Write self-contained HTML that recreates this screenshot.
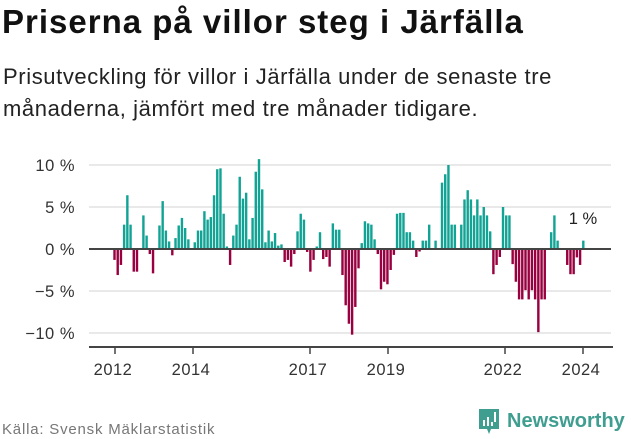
<!DOCTYPE html>
<html><head><meta charset="utf-8">
<style>
body{margin:0;width:631px;height:439px;background:#fff;font-family:"Liberation Sans","DejaVu Sans",sans-serif;overflow:hidden;position:relative}
h1{position:absolute;left:2px;top:3px;margin:0;font-size:33px;font-weight:bold;color:#111;letter-spacing:1px}
.sub{position:absolute;left:3px;top:61px;font-size:22px;line-height:32px;color:#222;width:580px;letter-spacing:0.6px}
.foot{position:absolute;left:2px;top:421px;font-size:15px;color:#777;letter-spacing:0.8px}
.logo{position:absolute;left:477px;top:407px;display:flex;align-items:center;color:#3f9e90;font-size:20px;font-weight:bold}
</style></head><body>
<h1>Priserna på villor steg i Järfälla</h1>
<div class="sub">Prisutveckling för villor i Järfälla under de senaste tre<br>månaderna, jämfört med tre månader tidigare.</div>
<svg id="chart" width="631" height="439" style="position:absolute;left:0;top:0"></svg>
<div class="foot">Källa: Svensk Mäklarstatistik</div>
<div class="logo"><svg width="24" height="28" viewBox="0 0 24 28"><path d="M2 2h20v20h-8l-2 5-2-5H2z" fill="#3f9e90"/><rect x="6" y="13" width="2" height="6" fill="#fff"/><rect x="10" y="10" width="2" height="9" fill="#fff"/><rect x="14" y="15" width="2" height="4" fill="#fff"/><rect x="17" y="5" width="2" height="10" fill="#fff"/></svg><span style="margin-left:6px">Newsworthy</span></div>
<script>
const values=[-1.3,-3.1,-1.9,2.9,6.4,2.9,-2.7,-2.7,0,4.0,1.6,-0.6,-2.9,0,2.8,5.7,2.2,0.9,-0.75,1.3,2.8,3.7,2.5,1.15,0,0.8,2.2,2.2,4.5,3.5,3.8,6.4,9.5,9.6,4.2,0.3,-1.9,1.6,2.9,8.6,6.0,6.7,1.15,3.7,9.2,10.7,7.1,0.8,2.2,
0.9,1.9,0.4,0.55,-1.55,-1.3,-2.1,-0.6,2.1,4.2,3.5,-0.35,-2.7,-1.3,0.3,2.0,-1.2,-0.95,-2.1,3.05,2.3,2.3,-3.1,-6.7,-8.9,-10.2,-6.9,-2.3,0.7,3.3,3.05,2.9,1.15,-0.6,-4.8,-3.9,-4.2,-2.5,-0.7,4.2,4.3,4.3,2.0,2.0,1.0,-0.95,-0.3,1.0,1.0,
2.9,0,1.0,0,7.9,8.9,10.0,2.9,2.9,0,2.9,5.9,7.0,5.9,4.0,5.9,4.0,5.0,4.0,2.1,-3.0,-1.9,-0.95,5.0,4.0,4.0,-1.8,-3.9,-6.0,-6.0,-4.9,-6.0,-4.9,-6.0,-9.9,-6.0,-6.0,0,2.0,4.0,1.0,0,0,-1.9,-3.0,-3.0,-1.0,-1.9,1.0];
const yTicks=[10,5,0,-5,-10];
const yTickLabels=["10 %","5 %","0 %","−5 %","−10 %"];
const years=[2012,2014,2017,2019,2022,2024];
const lastLabel="1 %";
const NS="http://www.w3.org/2000/svg";
const svg=document.getElementById('chart');
const y=v=>249-v*8.4;
const x0=113,x1=585,bw=(x1-x0)/values.length;
const xb=i=>x0+i*bw;
const xYear=yr=>115+(yr-2012)*39.0;
function mk(t,a){const e=document.createElementNS(NS,t);for(const k in a)e.setAttribute(k,a[k]);svg.appendChild(e);return e;}
yTicks.forEach((t,i)=>{
 if(t!==0){const g=mk('line',{x1:89,x2:611,y1:y(t),y2:y(t),stroke:'#e2e2e2','stroke-width':1.5});
 
 }
 const l=mk('text',{x:75,y:y(t)+6,'text-anchor':'end','font-size':16.5,'letter-spacing':0.5,fill:'#333','font-family':'Liberation Sans, sans-serif'});
 l.textContent=yTickLabels[i];
 
 
});
values.forEach((v,i)=>{
 const r=mk('rect',{x:xb(i)+0.3,width:bw-0.8,y:Math.min(y(v),y(0)),height:Math.abs(y(v)-y(0)),fill:v>=0?'#12a395':'#98003f'});
 
 
});
const z=mk('line',{x1:89,x2:611,y1:249,y2:249,stroke:'#444','stroke-width':2});


const ax=mk('line',{x1:89,x2:613,y1:347,y2:347,stroke:'#444','stroke-width':2});


years.forEach(yr=>{
 const t=mk('line',{x1:xYear(yr),x2:xYear(yr),y1:347,y2:354,stroke:'#444','stroke-width':1.5});
 
 
 const l=mk('text',{x:xYear(yr)-2,y:375,'text-anchor':'middle','font-size':16.5,'letter-spacing':0.5,fill:'#333','font-family':'Liberation Sans, sans-serif'});
 l.textContent=yr;
 
 
});
const ll=mk('text',{x:583,y:224,'text-anchor':'middle','font-size':16.5,fill:'#222','font-family':'Liberation Sans, sans-serif'});
ll.textContent=lastLabel;


</script>
</body></html>
